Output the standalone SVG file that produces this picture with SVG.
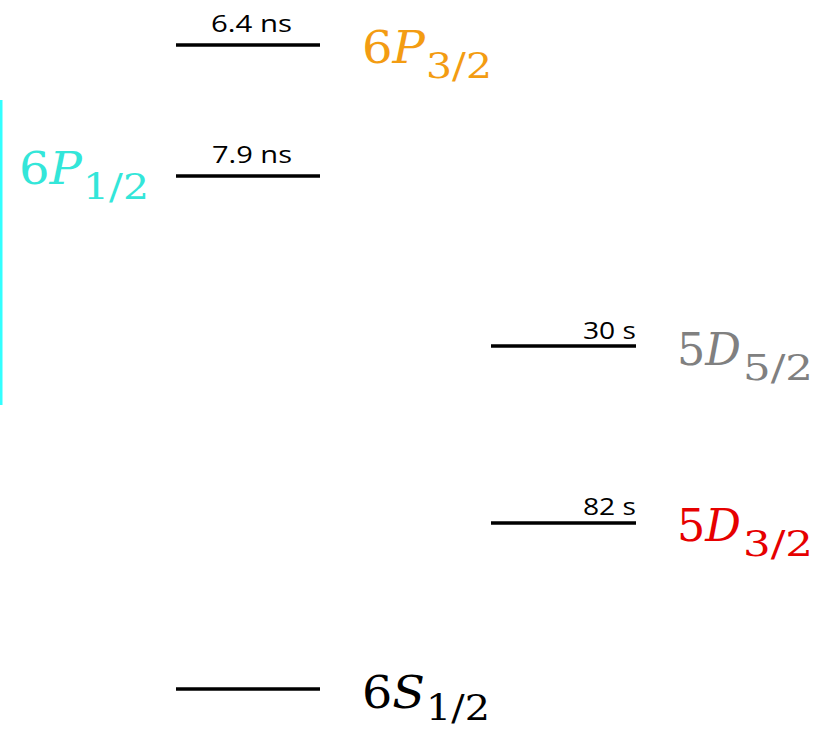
<svg xmlns="http://www.w3.org/2000/svg" width="830" height="730" viewBox="0 0 830 730">
<style>
.lvl{stroke:#000;stroke-width:3.5}
.life{font-family:"Open Sans","Liberation Sans",sans-serif;font-size:24px;fill:#000}
.term{font-family:"DejaVu Serif","Liberation Serif",serif;font-size:45px}
.it{font-style:italic}
.sub{font-family:"DejaVu Serif","Liberation Serif",serif;font-size:35px}
</style>
<rect width="830" height="730" fill="#fff"/>
<line x1="1" y1="100" x2="1" y2="405" stroke="#33ffff" stroke-width="3"/>
<g id="level-6P32">
<line class="lvl" x1="176" y1="45" x2="320" y2="45"/>
<text class="life" x="211" y="32" textLength="81" lengthAdjust="spacingAndGlyphs">6.4 ns</text>
<text class="term" x="362" y="63" fill="#f39c12" textLength="63" lengthAdjust="spacingAndGlyphs">6<tspan class="it">P</tspan></text>
<text class="sub" x="426" y="78" fill="#f39c12" textLength="66" lengthAdjust="spacingAndGlyphs">3/2</text>
</g>
<g id="level-6P12">
<line class="lvl" x1="176" y1="176" x2="320" y2="176"/>
<text class="life" x="212" y="163" textLength="80" lengthAdjust="spacingAndGlyphs">7.9 ns</text>
<text class="term" x="19" y="184" fill="#33e6d9" textLength="63" lengthAdjust="spacingAndGlyphs">6<tspan class="it">P</tspan></text>
<text class="sub" x="83" y="199" fill="#33e6d9" textLength="66" lengthAdjust="spacingAndGlyphs">1/2</text>
</g>
<g id="level-5D52">
<line class="lvl" x1="491" y1="346" x2="636" y2="346"/>
<text class="life" x="583" y="339" textLength="53" lengthAdjust="spacingAndGlyphs">30 s</text>
<text class="term" x="677" y="365" fill="#808080" textLength="64" lengthAdjust="spacingAndGlyphs">5<tspan class="it">D</tspan></text>
<text class="sub" x="743" y="380" fill="#808080" textLength="70" lengthAdjust="spacingAndGlyphs">5/2</text>
</g>
<g id="level-5D32">
<line class="lvl" x1="491" y1="523" x2="636" y2="523"/>
<text class="life" x="583" y="515" textLength="53" lengthAdjust="spacingAndGlyphs">82 s</text>
<text class="term" x="677" y="541" fill="#e60000" textLength="64" lengthAdjust="spacingAndGlyphs">5<tspan class="it">D</tspan></text>
<text class="sub" x="743" y="556" fill="#e60000" textLength="70" lengthAdjust="spacingAndGlyphs">3/2</text>
</g>
<g id="level-6S12">
<line class="lvl" x1="176" y1="689" x2="320" y2="689"/>
<text class="term" x="362" y="708" fill="#000" textLength="63" lengthAdjust="spacingAndGlyphs">6<tspan class="it">S</tspan></text>
<text class="sub" x="426" y="720" fill="#000" textLength="64" lengthAdjust="spacingAndGlyphs">1/2</text>
</g>
<g id="connectors"/>
</svg>
